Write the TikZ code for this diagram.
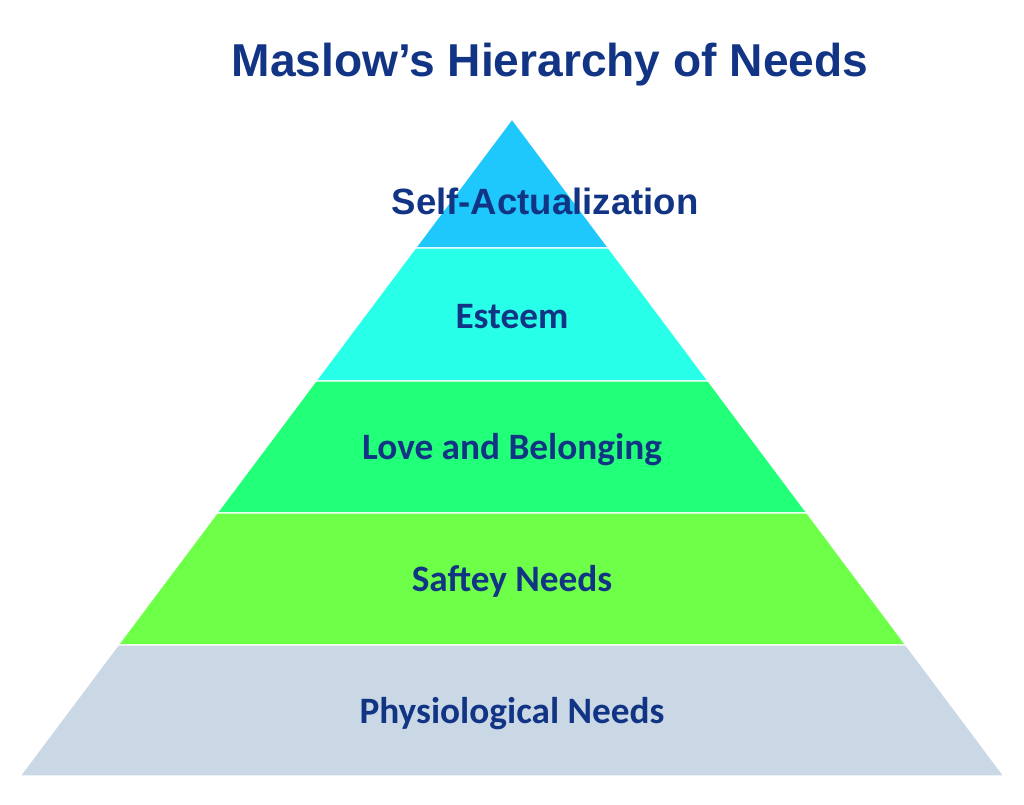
\documentclass[tikz,border=0pt]{standalone}
\usepackage{fontspec}
\setmainfont{Liberation Sans}
\newfontfamily\labelfont{Carlito}
\usepackage{xcolor}
\definecolor{navy}{RGB}{18,52,132}
\definecolor{tierA}{RGB}{30,200,252}
\definecolor{tierB}{RGB}{40,255,232}
\definecolor{tierC}{RGB}{34,255,120}
\definecolor{tierD}{RGB}{110,255,72}
\definecolor{tierE}{RGB}{202,216,230}

\begin{document}
\begin{tikzpicture}[
        x=0.025cm, y=-0.025cm,
        tier/.style={draw=white, line width=0.9pt, line join=miter},
        lbl/.style={anchor=base, text=navy, font=\labelfont\fontsize{26.5}{31}\selectfont\bfseries},
        title/.style={anchor=base, text=navy, font=\fontsize{32.8}{38}\selectfont\bfseries}
    ]
    \useasboundingbox (0,0) rectangle (1024,804);

    % Niveis
    \fill[tierA, tier] (512,119) -- (608.6,248) -- (415.4,248) -- cycle;
    \fill[tierB, tier] (415.4,248) -- (608.6,248) -- (708.2,381) -- (315.8,381) -- cycle;
    \fill[tierC, tier] (315.8,381) -- (708.2,381) -- (807,513) -- (217,513) -- cycle;
    \fill[tierD, tier] (217,513) -- (807,513) -- (905.9,645) -- (118.1,645) -- cycle;
    \fill[tierE, tier] (118.1,645) -- (905.9,645) -- (1004,776) -- (20,776) -- cycle;

    % Titulo
    \node[title] (titulo) at (550,76) {Maslow’s Hierarchy of Needs};

    % Rotulos
    \node[anchor=base, text=navy, font=\fontsize{26}{30}\selectfont\bfseries] (self) at (545,214) {Self-Actualization};
    \node[lbl] (esteem) at (512,328) {Esteem};
    \node[lbl] (love) at (512,459) {Love and Belonging};
    \node[lbl] (safety) at (512,591) {Saftey Needs};
    \node[lbl] (physio) at (512,723) {Physiological Needs};

\end{tikzpicture}
\end{document}
